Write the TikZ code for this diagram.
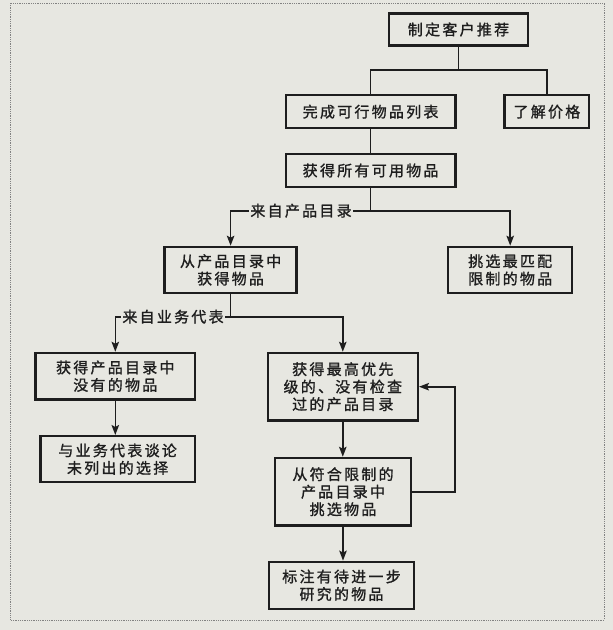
\documentclass[tikz,border=0pt]{standalone}
\usepackage{fontspec}
\newfontfamily\cjk[LetterSpace=15,FakeBold=1.2]{Noto Sans CJK SC}
\usetikzlibrary{arrows.meta}
\definecolor{paper}{RGB}{231,231,225}
\definecolor{ink}{RGB}{30,30,30}
\definecolor{framegray}{RGB}{130,130,130}
\begin{document}
\begin{tikzpicture}[x=1pt,y=-1pt,
  box/.style={draw=ink,line width=2.4pt,rectangle,inner sep=0pt,align=center,
    font=\cjk\fontsize{15}{17.5}\selectfont,text=ink},
  link/.style={draw=ink,line width=1.6pt},
  arr/.style={link,-{Stealth[length=10pt,width=7.5pt,inset=2pt]}},
  lbl/.style={fill=paper,inner sep=1pt,font=\cjk\fontsize{15}{17}\selectfont,text=ink}]
\fill[paper] (0,0) rectangle (613,630);
\useasboundingbox (0,0) rectangle (613,630);
\draw[framegray,line width=0.8pt,densely dotted] (10.6,3) rectangle (604,620);
% boxes
\node[box,minimum width=138.5pt,minimum height=32pt] (top) at (458.5,29.5) {制定客户推荐};
\node[box,minimum width=169.5pt,minimum height=33pt] (wc) at (370.6,111.7) {完成可行物品列表};
\node[box,minimum width=84.5pt,minimum height=33pt] (jg) at (546.9,111.7) {了解价格};
\node[box,minimum width=169.5pt,minimum height=33pt] (sy) at (370.6,170.5) {获得所有可用物品};
\node[box,minimum width=132pt,minimum height=46pt] (cc) at (230.6,269.9) {从产品目录中\\获得物品};
\node[box,minimum width=124pt,minimum height=46pt] (tx) at (510.2,269.9) {挑选最匹配\\限制的物品};
\node[box,minimum width=159.5pt,minimum height=46.5pt] (hd) at (115.3,376.2) {获得产品目录中\\没有的物品};
\node[box,minimum width=150pt,minimum height=67.5pt] (zg) at (342.8,386.7) {获得最高优先\\级的、没有检查\\过的产品目录};
\node[box,minimum width=154.5pt,minimum height=46pt] (yy) at (117.6,459.2) {与业务代表谈论\\未列出的选择};
\node[box,minimum width=136.5pt,minimum height=67.5pt] (fh) at (343,491.7) {从符合限制的\\产品目录中\\挑选物品};
\node[box,minimum width=145pt,minimum height=47pt] (bz) at (341.5,585.3) {标注有待进一步\\研究的物品};
% junction coordinates
\coordinate (j1) at (0,70);
\coordinate (j2) at (0,210.7);
\coordinate (j3) at (0,316.7);
\coordinate (fb) at (454.7,0);
% connectors
\draw[link] (top.south) -- (top.south |- j1);
\draw[link] (wc.north) |- (jg.north |- j1) -- (jg.north);
\draw[link] (wc.south) -- (sy.north);
\draw[link] (sy.south) -- (sy.south |- j2);
\draw[arr] (sy.south |- j2) -| (cc.north);
\draw[arr] (sy.south |- j2) -| (tx.north);
\node[lbl] (l1) at (301,210.7) {来自产品目录};
\draw[link] (cc.south) -- (cc.south |- j3);
\draw[arr] (cc.south |- j3) -| (hd.north);
\draw[arr] (cc.south |- j3) -| (zg.north);
\node[lbl] (l2) at (173,316.7) {来自业务代表};
\draw[arr] (hd.south) -- (hd.south |- yy.north);
\draw[arr] (zg.south) -- (zg.south |- fh.north);
\draw[arr] (fh.east) -- (fh.east -| fb) |- (zg.east);
\draw[arr] (fh.south) -- (fh.south |- bz.north);
\end{tikzpicture}
\end{document}
